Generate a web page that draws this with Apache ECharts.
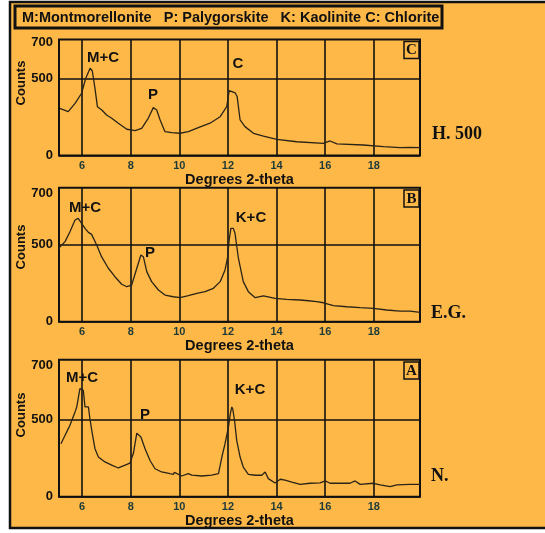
<!DOCTYPE html>
<html><head><meta charset="utf-8">
<script src="https://cdn.jsdelivr.net/npm/echarts@6/dist/echarts.min.js"></script>
<style>html,body{margin:0;padding:0;background:#fff;}#c{width:545px;height:533px;}</style>
</head><body><div id="c"></div>
<script>
// ---- data ----
const xTicks = [6, 8, 10, 12, 14, 16, 18];
const yTicks = [0, 500];
const yTopTick = [700];
const panelNames = ['H. 500', 'E.G.', 'N.'];
const panelLetters = ['C', 'B', 'A'];
const peakLabels = [['M+C', 'P', 'C'], ['M+C', 'P', 'K+C'], ['M+C', 'P', 'K+C']];
const legendText = 'M:Montmorellonite   P: Palygorskite   K: Kaolinite C: Chlorite';
const xTitle = 'Degrees 2-theta';
const yTitle = 'Counts';

const thetaH500 = [5.08, 5.16, 5.43, 5.71, 5.98, 6.15, 6.33, 6.42, 6.53, 6.63, 6.81, 7.01, 7.22, 7.49, 7.84, 8.18, 8.45, 8.72, 8.93, 9.07, 9.21, 9.41, 9.69, 10.03, 10.37, 10.78, 11.26, 11.68, 11.95, 12.05, 12.12, 12.3, 12.38, 12.5, 12.7, 13.05, 13.46, 14.01, 14.83, 15.93, 16.2, 16.48, 17.57, 18.4, 19.08, 19.5, 19.9];
const countsH500 = [305, 301, 284, 338, 403, 500, 565, 547, 435, 316, 295, 262, 241, 209, 170, 161, 176, 241, 310, 295, 230, 154, 148, 144, 154, 180, 209, 251, 316, 420, 428, 405, 380, 230, 187, 144, 126, 105, 89, 79, 94, 75, 68, 57, 51, 53, 51];

const thetaEG = [5.05, 5.09, 5.3, 5.5, 5.71, 5.84, 5.98, 6.12, 6.26, 6.39, 6.46, 6.6, 6.8, 7.08, 7.35, 7.63, 7.84, 8.04, 8.25, 8.42, 8.52, 8.66, 8.86, 9.14, 9.41, 9.75, 10.03, 10.37, 10.72, 11.06, 11.4, 11.68, 11.88, 11.98, 12.05, 12.12, 12.22, 12.29, 12.43, 12.63, 12.84, 13.12, 13.46, 13.94, 14.42, 14.97, 15.31, 15.65, 15.93, 16.34, 16.89, 17.44, 17.98, 18.53, 19.08, 19.49, 19.9];
const countsEG = [470, 487, 520, 584, 660, 671, 639, 606, 580, 567, 574, 498, 422, 347, 292, 243, 227, 238, 347, 433, 422, 325, 260, 206, 173, 162, 156, 169, 184, 195, 217, 260, 336, 412, 531, 606, 606, 574, 412, 260, 195, 156, 167, 152, 145, 141, 136, 130, 123, 104, 97, 91, 87, 76, 69, 69, 61];

const thetaN = [5.13, 5.3, 5.5, 5.71, 5.78, 5.84, 5.91, 5.98, 6.05, 6.12, 6.19, 6.26, 6.33, 6.42, 6.53, 6.67, 6.94, 7.22, 7.49, 7.77, 7.97, 8.11, 8.25, 8.31, 8.42, 8.59, 8.79, 9.0, 9.27, 9.62, 9.75, 9.8, 10.1, 10.37, 10.51, 10.92, 11.33, 11.61, 11.75, 11.88, 12.02, 12.1, 12.16, 12.2, 12.27, 12.36, 12.5, 12.63, 12.84, 13.12, 13.39, 13.53, 13.66, 13.94, 14.15, 14.35, 14.63, 14.97, 15.38, 15.79, 16.0, 16.2, 16.61, 17.02, 17.23, 17.44, 17.98, 18.26, 18.67, 18.95, 19.49, 19.9];
const countsN = [343, 398, 462, 549, 581, 635, 700, 711, 689, 581, 592, 581, 495, 408, 311, 257, 225, 205, 186, 205, 218, 281, 411, 419, 387, 311, 236, 181, 160, 149, 145, 158, 134, 149, 140, 134, 140, 149, 257, 343, 451, 540, 581, 565, 495, 365, 257, 192, 145, 139, 139, 160, 117, 89, 113, 108, 95, 80, 87, 89, 102, 87, 87, 87, 102, 80, 87, 76, 65, 76, 80, 80];

const panelTheta = [thetaH500, thetaEG, thetaN];
const panelCounts = [countsH500, countsEG, countsN];

// ---- layout / style ----
const BG = '#FEB847';
const SANS = '"Liberation Sans", Arial, sans-serif';
const SERIF = '"Liberation Serif", "Times New Roman", serif';
const xMin = 5.05, xMax = 19.9;
const grids = [
  {left: 59, top: 39.5, width: 361, height: 116},
  {left: 59, top: 187.7, width: 361, height: 134},
  {left: 59, top: 359.7, width: 361, height: 137}
];
const yMax = [751, 870, 887];
const yLabelMax = [715, 734, 728];
const countsTitleY = [83, 247, 415];
const letterBoxY = [41.5, 190, 362];
const sideLabelPos = [[432, 134], [431, 313], [431, 476]];
const peakPos = [
  [[103, 58], [153, 95], [238, 64]],
  [[85, 208], [150, 253], [251, 218]],
  [[82, 378], [145, 415], [250, 390]]
];

const chart = echarts.init(document.getElementById('c'), null, {renderer: 'canvas'});
const xAxes = [], yAxes = [], series = [], graphics = [];

graphics.push({type: 'rect', z: -10, shape: {x: 10, y: 2, width: 560, height: 526},
  style: {fill: BG, stroke: '#111', lineWidth: 2.5}});
graphics.push({type: 'rect', shape: {x: 15, y: 6, width: 427, height: 22},
  style: {fill: 'none', stroke: '#111', lineWidth: 3}});
graphics.push({type: 'text', x: 22, y: 17.5, style: {text: legendText, font: 'bold 14.5px ' + SANS,
  fill: '#111', verticalAlign: 'middle', align: 'left'}});

grids.forEach((g, i) => {
  g.show = true; g.borderColor = '#111'; g.borderWidth = 2; g.backgroundColor = 'transparent';
  xAxes.push({
    type: 'value', gridIndex: i, min: xMin, max: xMax,
    name: xTitle, nameLocation: 'middle', nameGap: 13,
    nameTextStyle: {fontSize: 14.5, fontWeight: 'bold', fontFamily: SANS, color: '#111'},
    axisLine: {show: false},
    axisTick: {show: false, customValues: xTicks},
    axisLabel: {customValues: xTicks, margin: 5, color: '#1d3a3a', fontWeight: 'bold', fontSize: 11, fontFamily: SANS},
    splitLine: {show: true, lineStyle: {color: '#111', width: 1.6}}
  });
  yAxes.push({
    type: 'value', gridIndex: i, min: 0, max: yMax[i],
    axisLine: {show: false},
    axisTick: {show: false, customValues: yTicks},
    axisLabel: {customValues: yTicks, margin: 6, color: '#111', fontWeight: 'bold', fontSize: 13, fontFamily: SANS},
    splitLine: {show: true, lineStyle: {color: '#111', width: 1.6}}
  });
  yAxes.push({
    type: 'value', gridIndex: i, min: 0, max: yLabelMax[i], position: 'left',
    axisLine: {show: false},
    axisTick: {show: false, customValues: yTopTick},
    axisLabel: {customValues: yTopTick, margin: 6, color: '#111', fontWeight: 'bold', fontSize: 13, fontFamily: SANS},
    splitLine: {show: false}
  });
  series.push({
    type: 'line', xAxisIndex: i, yAxisIndex: i * 2, showSymbol: false, animation: false,
    data: panelTheta[i].map((t, k) => [t, panelCounts[i][k]]),
    lineStyle: {color: '#2a2418', width: 1.3}
  });
  graphics.push({type: 'text', x: 21, y: countsTitleY[i], rotation: Math.PI / 2,
    style: {text: yTitle, font: 'bold 13px ' + SANS, fill: '#111', align: 'center', verticalAlign: 'middle'}});
  graphics.push({type: 'rect', shape: {x: 404, y: letterBoxY[i], width: 15, height: 17},
    style: {fill: 'none', stroke: '#111', lineWidth: 1.5}});
  graphics.push({type: 'text', x: 411.5, y: letterBoxY[i] + 9,
    style: {text: panelLetters[i], font: 'bold 15px ' + SERIF, fill: '#111', align: 'center', verticalAlign: 'middle'}});
  graphics.push({type: 'text', x: sideLabelPos[i][0], y: sideLabelPos[i][1],
    style: {text: panelNames[i], font: 'bold 18px ' + SERIF, fill: '#111', align: 'left', verticalAlign: 'middle'}});
  peakLabels[i].forEach((lab, k) => {
    graphics.push({type: 'text', x: peakPos[i][k][0], y: peakPos[i][k][1],
      style: {text: lab, font: 'bold 15px ' + SANS, fill: '#111', align: 'center', verticalAlign: 'middle'}});
  });
});

chart.setOption({
  backgroundColor: '#fff',
  animation: false,
  grid: grids,
  xAxis: xAxes,
  yAxis: yAxes,
  series: series,
  graphic: {elements: graphics}
});
</script>
</body></html>
